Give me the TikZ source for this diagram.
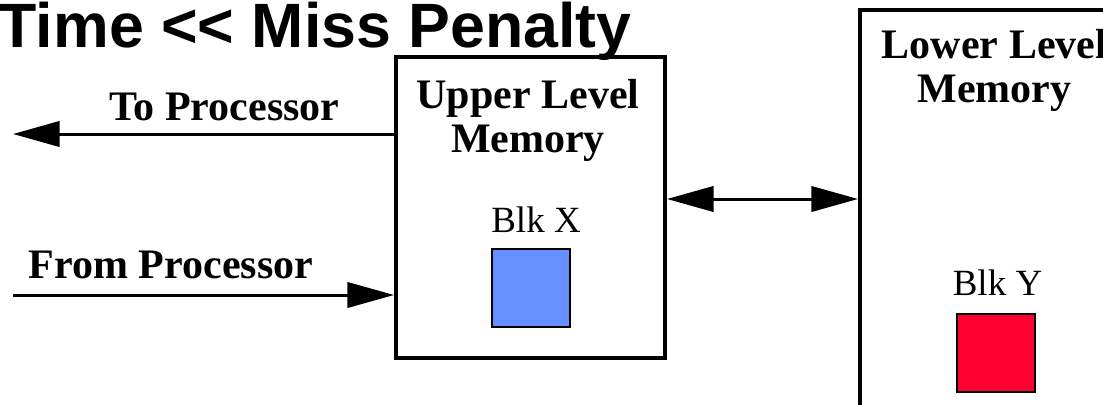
\documentclass[tikz,border=0pt]{standalone}
\usepackage{fontspec}
\setmainfont{Liberation Serif}
\newfontfamily\titlefont{Liberation Sans}
\usetikzlibrary{arrows.meta,positioning}
\definecolor{BlkBlue}{HTML}{6690FF}
\definecolor{BlkRed}{HTML}{FF0033}
\tikzset{
    membox/.style = {draw, rectangle, line width=3pt, inner sep=0pt},
    blkbox/.style = {draw, rectangle, line width=1.5pt,
        minimum size=58.5pt, inner sep=0pt},
    memlabel/.style = {font=\bfseries\fontsize{31.5}{32.5}\selectfont,
        align=center, inner sep=0pt, anchor=base},
    blklabel/.style = {font=\fontsize{27.75}{30}\selectfont,
        inner sep=0pt, anchor=base},
    arrow/.style = {draw, line width=2.25pt,
        -{Triangle[length=35pt,width=19pt]}},
    darrow/.style = {draw, line width=2.25pt,
        {Triangle[length=35pt,width=19pt]}-{Triangle[length=35pt,width=19pt]}}
}

\begin{document}
\begin{tikzpicture}[x=0.75pt,y=-0.75pt]
    \useasboundingbox (0,0) rectangle (1103,404);
    \clip (0,0) rectangle (1103,404);
    % title, cut at the left edge
    \node[anchor=base west, inner sep=0pt,
          font=\titlefont\bfseries\fontsize{47}{50}\selectfont]
          (title) at (-1.5,47) {Time << Miss Penalty};
    % the two memories
    \node[membox, minimum width=201.75pt, minimum height=225.75pt] (upper) at (530.5,207.5) {};
    \node[membox, minimum width=202.5pt, minimum height=443.25pt] (lower) at (995,305) {};
    % base anchor sits on the last line
    \node[memlabel] (uplabel) at (528,152) {Upper Level\\Memory};
    \node[memlabel] (lowlabel) at (994.5,102) {Lower Level\\Memory};
    % blocks
    \node[blklabel] (xlabel) at (536,232) {Blk X};
    \node[blkbox, fill=BlkBlue] (blkx) at (531,288) {};
    \node[blklabel] (ylabel) at (997.5,295) {Blk Y};
    \node[blkbox, fill=BlkRed] (blky) at (995.5,352.5) {};
    % processor side
    \coordinate (toend) at (13,134);
    \coordinate (fromstart) at (13,295);
    \coordinate (bus) at (760,199);
    \node[memlabel] (tolabel) at (224.5,120) {To Processor};
    \node[memlabel] (fromlabel) at (171,278) {From Processor};
    \draw[arrow] (upper.west |- toend) -- (toend);
    \draw[arrow] (fromstart) -- (fromstart -| upper.west);
    \draw[darrow] (upper.east |- bus) -- (lower.west |- bus);
%    \draw[help lines] (0,0) grid[step=50] (1103,404);
\end{tikzpicture}
\end{document}
